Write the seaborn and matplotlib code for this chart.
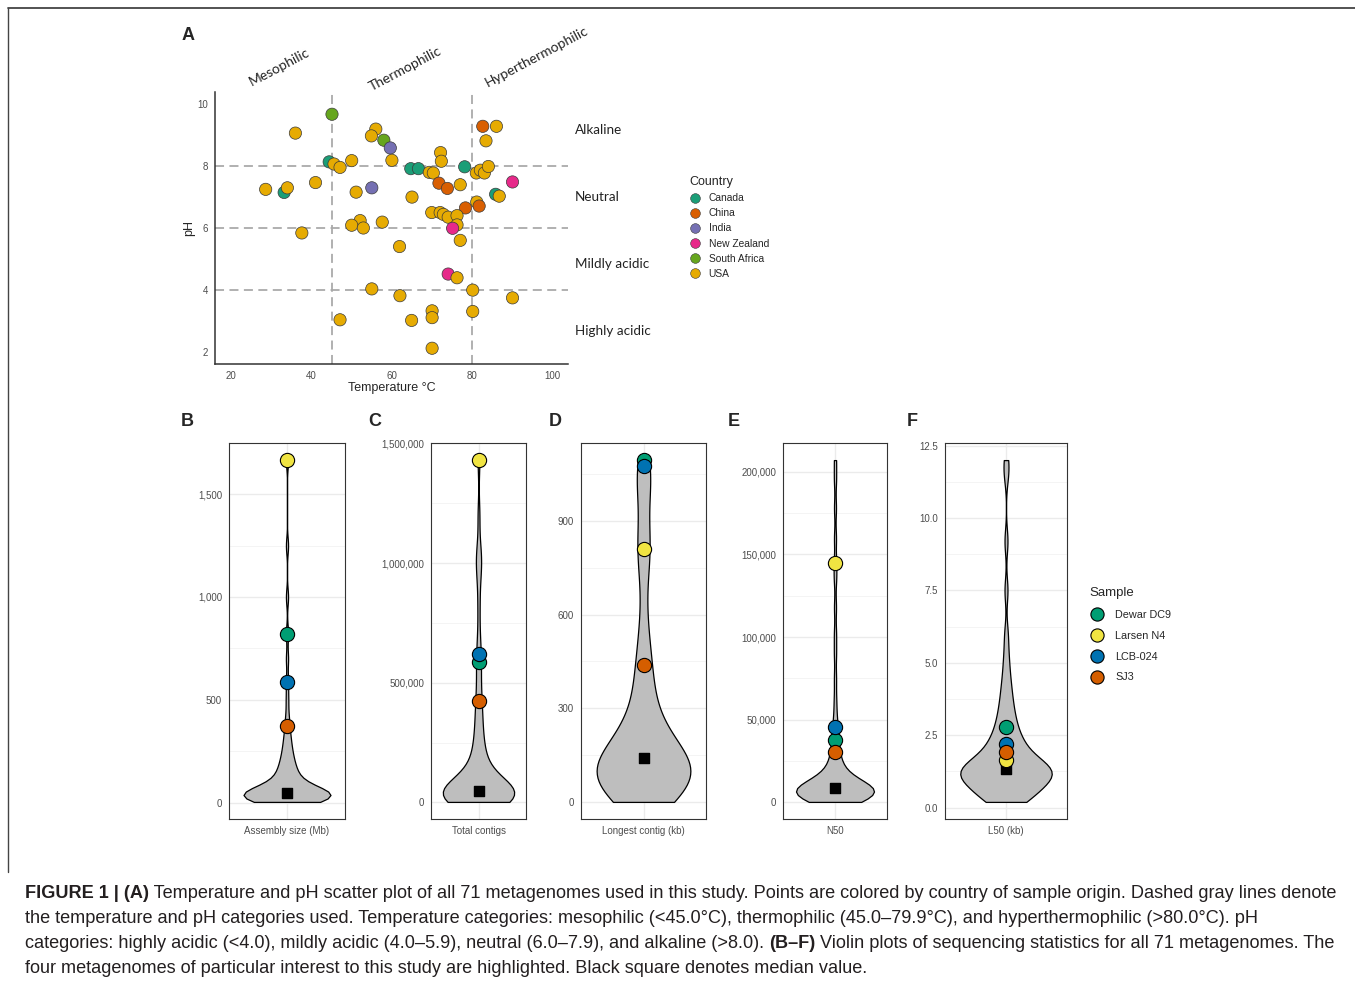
import numpy as np
import pandas as pd
import matplotlib
matplotlib.use("Agg")
import matplotlib.pyplot as plt
from matplotlib.lines import Line2D
from matplotlib.ticker import FuncFormatter, MultipleLocator
import seaborn as sns

W, H = 1355, 986

# ---------------- panel A data: temperature / pH per metagenome ----------------
temperature = [45.1, 36.0, 56.0, 54.9, 44.4, 45.6, 47.1, 50.0, 28.6, 33.2,
               34.0, 41.0, 55.0, 51.1, 52.1, 50.0, 52.9, 37.6, 55.0, 47.1,
               58.0, 59.6, 60.0, 65.0, 57.6, 61.9, 62.0, 64.9, 70.0, 70.0,
               70.0, 64.7, 66.6, 72.1, 72.3, 78.1, 69.3, 70.3, 71.7, 73.8,
               77.0, 78.3, 69.9, 72.0, 72.8, 74.0, 76.2, 76.2, 75.1, 77.0,
               74.0, 76.2, 80.1, 80.1, 90.0, 82.6, 86.0, 83.4, 81.0, 82.0,
               83.0, 84.0, 90.0, 85.8, 86.7, 81.1, 81.7]
ph = [9.68, 9.07, 9.20, 8.98, 8.14, 8.07, 7.96, 8.18, 7.25, 7.15,
      7.30, 7.47, 7.30, 7.16, 6.24, 6.09, 6.00, 5.84, 4.03, 3.03,
      8.84, 8.59, 8.19, 7.00, 6.19, 5.40, 3.81, 3.01, 3.32, 3.10,
      2.11, 7.92, 7.92, 8.44, 8.16, 7.98, 7.80, 7.78, 7.45, 7.28,
      7.40, 6.65, 6.50, 6.50, 6.44, 6.35, 6.40, 6.10, 5.99, 5.60,
      4.51, 4.39, 3.99, 3.30, 3.74, 9.29, 9.29, 8.82, 7.78, 7.87,
      7.78, 7.99, 7.49, 7.09, 7.03, 6.84, 6.71]
country = ["South Africa", "USA", "USA", "USA", "Canada", "USA", "USA", "USA", "USA", "Canada",
           "USA", "USA", "India", "USA", "USA", "USA", "USA", "USA", "USA", "USA",
           "South Africa", "India", "USA", "USA", "USA", "USA", "USA", "USA", "USA", "USA",
           "USA", "Canada", "Canada", "USA", "USA", "Canada", "USA", "USA", "China", "China",
           "USA", "China", "USA", "USA", "USA", "USA", "USA", "USA", "New Zealand", "USA",
           "New Zealand", "USA", "USA", "USA", "USA", "China", "USA", "USA", "USA", "USA",
           "USA", "USA", "New Zealand", "Canada", "USA", "USA", "China"]
countries = ["Canada", "China", "India", "New Zealand", "South Africa", "USA"]
country_colors = ["#1B9E77", "#D95F02", "#7570B3", "#E7298A", "#66A61E", "#E6AB02"]

temp_cuts = [45, 80]
ph_cuts = [4, 6, 8]
temp_classes = ["Mesophilic", "Thermophilic", "Hyperthermophilic"]
ph_classes = ["Alkaline", "Neutral", "Mildly acidic", "Highly acidic"]

# ---------------- panels B-F: sequencing statistics (71 metagenomes) ----------------
assembly_size = [3, 5, 7, 9, 11, 13, 15, 17, 18, 20, 21, 22, 24, 25, 26, 28, 29, 30,
                 31, 32, 33, 34, 35, 36, 37, 38, 39, 40, 41, 42, 43, 44, 45, 46, 47, 48,
                 52, 56, 60, 65, 70, 76, 82, 88, 95, 102, 110, 118, 126, 135, 145, 155,
                 166, 178, 190, 205, 220, 238, 258, 280, 305, 335, 372, 420, 500, 587,
                 700, 822, 1000, 1250, 1666]
total_contigs = [2000, 4000, 6000, 8000, 10000, 12000, 14000, 16000, 18000, 19000,
                 20000, 22000, 23000, 24000, 25000, 27000, 28000, 29000, 30000, 31000,
                 32000, 33000, 34000, 35000, 36000, 37000, 38000, 39000, 40000, 41000,
                 42000, 43000, 44000, 46000, 47000, 48000,
                 52000, 57000, 63000, 70000, 78000, 86000, 95000, 105000, 115000, 125000,
                 137000, 150000, 163000, 178000, 195000, 215000, 238000, 262000, 290000,
                 320000, 355000, 390000, 422000, 470000, 530000, 587000, 621000, 700000,
                 820000, 930000, 990000, 1020000, 1060000, 1200000, 1430000]
longest_contig = [1, 5, 10, 15, 20, 25, 30, 35, 40, 45, 50, 55, 58, 62, 66, 70, 74, 77,
                  80, 83, 86, 89, 92, 95, 98, 102, 106, 110, 114, 118, 122, 127, 132, 137,
                  140, 143, 148, 155, 162, 170, 178, 186, 195, 205, 215, 228, 240, 255,
                  270, 290, 310, 335, 360, 390, 420, 438, 470, 510, 560, 640, 740, 790,
                  809, 830, 870, 950, 1010, 1040, 1060, 1075, 1094]
n50 = [300, 600, 900, 1200, 1500, 1800, 2100, 2400, 2700, 3000, 3300, 3600, 3900,
       4200, 4500, 4800, 5000, 5300, 5500, 5800, 6000, 6300, 6500, 6800, 7000, 7200,
       7400, 7600, 7800, 8000, 8200, 8400, 8500, 8700, 8800, 8900,
       9200, 9600, 10000, 10500, 11000, 11600, 12200, 13000, 13800, 14700, 15600,
       16700, 18000, 19500, 21000, 23000, 25000, 27500, 30700, 34000, 37700, 41000,
       45300, 52000, 62000, 75000, 90000, 102000, 118000, 135000, 145000, 160000,
       178000, 195000, 207000]
l50 = [0.2, 0.22, 0.25, 0.28, 0.32, 0.36, 0.4, 0.45, 0.5, 0.55, 0.6, 0.65, 0.7, 0.75,
       0.8, 0.85, 0.9, 0.95, 1.0, 1.02, 1.05, 1.08, 1.1, 1.12, 1.15, 1.18, 1.2, 1.22,
       1.25, 1.27, 1.29, 1.3, 1.31, 1.32, 1.34, 1.35,
       1.38, 1.42, 1.46, 1.5, 1.55, 1.6, 1.66, 1.72, 1.78, 1.85, 1.94, 2.0, 2.08,
       2.15, 2.21, 2.3, 2.4, 2.5, 2.6, 2.77, 2.9, 3.05, 3.2, 3.4, 3.6, 3.85, 4.1,
       4.4, 4.8, 5.3, 6.0, 7.5, 9.2, 11.5, 12.0]

samples = ["Dewar DC9", "Larsen N4", "LCB-024", "SJ3"]
sample_colors = ["#009E73", "#F0E442", "#0072B2", "#D55E00"]
# highlighted values, same order as samples
hl_assembly = [822, 1666, 587, 372]
hl_contigs = [587000, 1430000, 621000, 422000]
hl_longest = [1094, 809, 1075, 438]
hl_n50 = [37700, 145000, 45300, 30700]
hl_l50 = [2.77, 1.66, 2.21, 1.94]

caption_lines = [
    [("FIGURE 1 | (A)", True), (" Temperature and pH scatter plot of all 71 metagenomes used in this study. "
                               "Points are colored by country of sample origin. Dashed gray lines denote", False)],
    [("the temperature and pH categories used. Temperature categories: mesophilic (<45.0\u00b0C), "
      "thermophilic (45.0\u201379.9\u00b0C), and hyperthermophilic (>80.0\u00b0C). pH", False)],
    [("categories: highly acidic (<4.0), mildly acidic (4.0\u20135.9), neutral (6.0\u20137.9), "
      "and alkaline (>8.0). ", False), ("(B\u2013F)", True),
     (" Violin plots of sequencing statistics for all 71 metagenomes. The", False)],
    [("four metagenomes of particular interest to this study are highlighted. "
      "Black square denotes median value.", False)],
]

sns.set_style("white")
plt.rcParams["font.family"] = ["Liberation Sans", "DejaVu Sans"]


def fx(px):
    return px / W


def fy(py):
    return 1 - py / H


def box(l, t, r, b):
    return [l / W, 1 - b / H, (r - l) / W, (b - t) / H]


fig = plt.figure(figsize=(W / 100, H / 100), dpi=100)
fig.patch.set_facecolor("white")

# frame
fig.add_artist(Line2D([fx(8), 1], [fy(8), fy(8)], color="#444444", lw=1.3))
fig.add_artist(Line2D([fx(8), fx(8)], [fy(8), fy(872)], color="#444444", lw=1.0))

# ---------------- panel A ----------------
df = pd.DataFrame({"Temperature": temperature, "pH": ph, "Country": country})
axA = fig.add_axes(box(215, 92, 568, 364))
for c in temp_cuts:
    axA.axvline(c, color="#AAAAAA", lw=1.3, ls=(0, (5, 3)), zorder=1)
for c in ph_cuts:
    axA.axhline(c, color="#AAAAAA", lw=1.3, ls=(0, (5, 3)), zorder=1)
sns.scatterplot(data=df, x="Temperature", y="pH", hue="Country", hue_order=countries,
                palette=country_colors, s=78, edgecolor="#3a3a3a", linewidth=0.5,
                ax=axA, legend=False, zorder=3)
axA.set_xlim(16, 103.8)
axA.set_ylim(1.6, 10.4)
axA.set_xticks([20, 40, 60, 80, 100])
axA.set_yticks([2, 4, 6, 8, 10])
for s in ["top", "right"]:
    axA.spines[s].set_visible(False)
for s in ["left", "bottom"]:
    axA.spines[s].set_color("#333333")
    axA.spines[s].set_linewidth(1.1)
axA.tick_params(length=3, width=0.8, color="#333333", labelcolor="#4D4D4D", labelsize=7, pad=2)
axA.set_xlabel("Temperature \u00b0C", fontsize=9, labelpad=1)
axA.set_ylabel("pH", fontsize=9, labelpad=1.5)

for lab, (x, y) in zip(temp_classes, [(279, 67), (405, 69), (537, 57)]):
    fig.text(fx(x), fy(y), lab, family=["Lato", "DejaVu Sans"], fontsize=10, rotation=28,
             ha="center", va="center", rotation_mode="anchor", color="#222222")
for lab, y in zip(ph_classes, [130, 197, 264, 331]):
    fig.text(fx(575), fy(y), lab, family=["Lato", "DejaVu Sans"], fontsize=9.7,
             ha="left", va="center", color="#222222")

country_handles = [Line2D([], [], marker="o", ls="", markersize=7, markerfacecolor=col,
                          markeredgecolor="#3a3a3a", markeredgewidth=0.4)
                   for col in country_colors]
fig.legend(country_handles, countries, title="Country", loc="upper left",
           bbox_to_anchor=(fx(689), fy(176)), frameon=False, fontsize=7.4,
           title_fontsize=9, handletextpad=0.7, labelspacing=0.5,
           borderpad=0, borderaxespad=0, handlelength=1.2, alignment="left")

fig.text(fx(182), fy(35), "A", fontsize=13, weight="bold", va="center")

# ---------------- panels B-F ----------------


def nrd0_factor(v):
    v = np.asarray(v, float)
    sd = v.std(ddof=1)
    q75, q25 = np.percentile(v, [75, 25])
    bw = 0.9 * min(sd, (q75 - q25) / 1.34) * len(v) ** -0.2
    return bw / sd


violin_panels = [
    ("B", 181, assembly_size, hl_assembly, "Assembly size (Mb)", (229, 345), [0, 500, 1000, 1500], 250, "{:,.0f}"),
    ("C", 368, total_contigs, hl_contigs, "Total contigs", (431, 526), [0, 500000, 1000000, 1500000], 250000, "{:,.0f}"),
    ("D", 549, longest_contig, hl_longest, "Longest contig (kb)", (581, 706), [0, 300, 600, 900], 150, "{:,.0f}"),
    ("E", 728, n50, hl_n50, "N50", (783, 887), [0, 50000, 100000, 150000, 200000], 25000, "{:,.0f}"),
    ("F", 907, l50, hl_l50, "L50 (kb)", (945, 1067), [0, 2.5, 5, 7.5, 10, 12.5], 1.25, "{:.1f}"),
]

for letter, lx, vals, hl, xlabel, (l, r), yt, minor, fmt in violin_panels:
    ax = fig.add_axes(box(l, 443, r, 819))
    sns.violinplot(y=vals, ax=ax, color="#BEBEBE", saturation=1, cut=0, inner=None,
                   linecolor="black", linewidth=0.9, width=0.9,
                   bw_method=nrd0_factor(vals), zorder=2)
    ax.scatter([0], [np.median(vals)], marker="s", s=62, color="black", zorder=3)
    for v, col in zip(hl, sample_colors):
        ax.scatter([0], [v], s=105, color=col, edgecolor="black", linewidth=0.8, zorder=4)
    lo, hi = min(vals), max(vals)
    pad = 0.05 * (hi - lo)
    ax.set_ylim(lo - pad, hi + pad)
    ax.set_xlim(-0.6, 0.6)
    ax.set_yticks(yt)
    ax.yaxis.set_minor_locator(MultipleLocator(minor))
    ax.yaxis.set_major_formatter(FuncFormatter(lambda v, p, f=fmt: f.format(v)))
    ax.set_xticks([0])
    ax.set_xticklabels([xlabel])
    ax.set_xlabel("")
    ax.set_ylabel("")
    ax.set_axisbelow(True)
    ax.grid(True, which="major", color="#EBEBEB", lw=1.0)
    ax.grid(True, which="minor", axis="y", color="#F3F3F3", lw=0.6)
    for s in ax.spines.values():
        s.set_color("#333333")
        s.set_linewidth(0.8)
        s.set_visible(True)
    ax.tick_params(which="major", length=3, width=0.7, color="#333333",
                   labelcolor="#4D4D4D", labelsize=7, pad=2)
    ax.tick_params(which="minor", length=0)
    fig.text(fx(lx), fy(421), letter, fontsize=13, weight="bold", va="center")

sample_handles = [Line2D([], [], marker="o", ls="", markersize=9.5, markerfacecolor=col,
                         markeredgecolor="black", markeredgewidth=0.8)
                  for col in sample_colors]
fig.legend(sample_handles, samples, title="Sample", loc="upper left",
           bbox_to_anchor=(fx(1089), fy(587)), frameon=False, fontsize=7.8,
           title_fontsize=9.5, handletextpad=1.0, labelspacing=1.0,
           borderpad=0, borderaxespad=0, handlelength=1.4, alignment="left")

# ---------------- caption ----------------
cap_family = ["Liberation Sans", "DejaVu Sans"]
fig.canvas.draw()
renderer = fig.canvas.get_renderer()
for i, parts in enumerate(caption_lines):
    x = fx(25)
    y = fy(898 + 25 * i)
    for txt, bold in parts:
        t = fig.text(x, y, txt, family=cap_family, fontsize=13.1, color="#231F20",
                     weight="bold" if bold else "normal", va="baseline", ha="left")
        bb = t.get_window_extent(renderer)
        x = bb.x1 / fig.bbox.width

fig.savefig("out.png", dpi=100, facecolor="white")
